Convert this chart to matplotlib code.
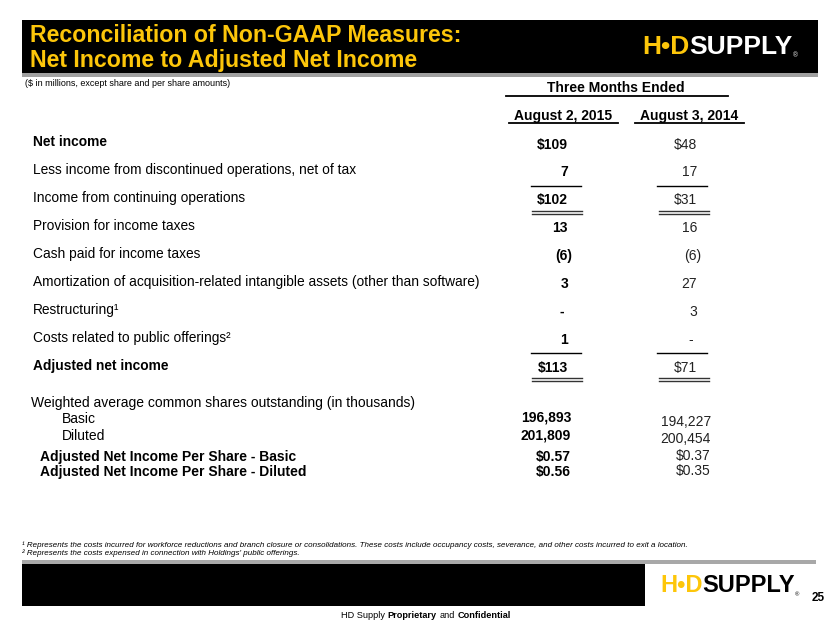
import matplotlib
matplotlib.use("Agg")
import matplotlib.pyplot as plt
from matplotlib.patches import Rectangle

plt.rcParams['font.family'] = ['Liberation Sans', 'DejaVu Sans']

# ---- data ----
title_lines = ["Reconciliation of Non-GAAP Measures:", "Net Income to Adjusted Net Income"]
period_header = "Three Months Ended"
col_headers = ["August 2, 2015", "August 3, 2014"]

row_labels = ["Net income",
              "Less income from discontinued operations, net of tax",
              "Income from continuing operations",
              "Provision for income taxes",
              "Cash paid for income taxes",
              "Amortization of acquisition-related intangible assets (other than software)",
              "Restructuring\u00b9",
              "Costs related to public offerings\u00b2",
              "Adjusted net income"]
q_2015 = ["$109", "7", "$102", "13", "(6)", "3", "-", "1", "$113"]
q_2014 = ["$48", "17", "$31", "16", "(6)", "27", "3", "-", "$71"]

shares_title = "Weighted average common shares outstanding (in thousands)"
share_labels = ["Basic", "Diluted"]
shares_2015 = ["196,893", "201,809"]
shares_2014 = ["194,227", "200,454"]

eps_labels = ["Adjusted Net Income Per Share - Basic", "Adjusted Net Income Per Share - Diluted"]
eps_2015 = ["$0.57", "$0.56"]
eps_2014 = ["$0.37", "$0.35"]

footnotes = ["\u00b9 Represents the costs incurred for workforce reductions and branch closure or consolidations. "
             "These costs include occupancy costs, severance, and other costs incurred to exit a location.",
             "\u00b2 Represents the costs expensed in connection with Holdings' public offerings."]

YELLOW = '#FDC60A'

fig = plt.figure(figsize=(8.3, 6.23), dpi=100)
ax = fig.add_axes([0, 0, 1, 1])
ax.set_xlim(0, 830)
ax.set_ylim(623, 0)
ax.axis('off')

# ---- title bar ----
ax.add_patch(Rectangle((22, 72), 796, 5, color='#a0a0a0', lw=0))
ax.add_patch(Rectangle((22, 20), 796, 53, color='black', lw=0))
for i, t in enumerate(title_lines):
    ax.text(30, 35 + 25 * i, t, color=YELLOW, fontsize=16.7, fontweight='bold',
            va='center', ha='left')


def logo(x, y, size, rest_color):
    t1 = ax.text(x, y, "H\u2022D", color=YELLOW, fontsize=size, fontweight='bold',
                 va='center', ha='left')
    t2 = ax.annotate("SUPPLY", xy=(1, 0), xycoords=t1, va='bottom', ha='left',
                     color=rest_color, fontsize=size, fontweight='bold')
    ax.annotate("\u00ae", xy=(1, 0), xycoords=t2, va='bottom', ha='left',
                color=rest_color, fontsize=size * 0.25)


logo(642, 47, 19, 'white')

ax.text(25, 84, "($ in millions, except share and per share amounts)", fontsize=6.5, va='center')

# ---- column headers ----
c1, c2 = 563, 689
ax.text((c1 + c2) / 2 - 10, 88, period_header, fontsize=10, fontweight='bold', ha='center', va='center')
ax.plot([506, 728], [95.5, 95.5], color='black', lw=1.3)
for cx, h in zip([c1, c2], col_headers):
    ax.text(cx, 116, h, fontsize=10, fontweight='bold', ha='center', va='center')
    ax.plot([cx - 54, cx + 55], [123, 123], color='black', lw=1.3)

# ---- main rows ----
y0, dy = 142.5, 27.9
bold_rows = {0, 8}
single_after = [1, 7]
double_after = [2, 8]
r1, r2 = 568, 697
for i, lab in enumerate(row_labels):
    y = y0 + dy * i
    ax.text(33, y, lab, fontsize=9.9, fontweight='bold' if i in bold_rows else 'normal',
            va='center', ha='left')
    for rx, v, w, col in [(r1, q_2015[i], 'bold', 'black'), (r2, q_2014[i], 'normal', '#222222')]:
        off = 4 if v.endswith(')') else 0
        if v == '-':
            off = -4
        ax.text(rx + off, y + 2, v, fontsize=10, fontweight=w, color=col, va='center', ha='right')

for i in single_after:
    y = y0 + dy * i + 15.5
    for cx in [556, 682]:
        ax.plot([cx - 25, cx + 25], [y, y], color='black', lw=1)
for i in double_after:
    y = y0 + dy * i + 12.5
    for cx in [557, 684]:
        ax.plot([cx - 25, cx + 25], [y, y], color='#333333', lw=1)
        ax.plot([cx - 25, cx + 25], [y + 3, y + 3], color='#333333', lw=1)

# ---- shares and EPS ----
fs = 10
ax.text(31, 403, shares_title, fontsize=fs, va='center')
for i, lab in enumerate(share_labels):
    y = 419 + 17 * i
    ax.text(62, y, lab, fontsize=fs, va='center')
    ax.text(571, y - 1, shares_2015[i], fontsize=fs, fontweight='bold', ha='right', va='center')
    ax.text(711, y + 3, shares_2014[i], fontsize=fs, color='#222222', ha='right', va='center')
for i, lab in enumerate(eps_labels):
    y = 457 + 15 * i
    ax.text(40, y, lab, fontsize=fs, fontweight='bold', va='center')
    ax.text(571, y, eps_2015[i], fontsize=fs, fontweight='bold', ha='right', va='center')
    ax.text(711, y - 1, eps_2014[i], fontsize=fs, color='#222222', ha='right', va='center')

# ---- footnotes ----
for i, f in enumerate(footnotes):
    ax.text(22, 545 + 8 * i, f, fontsize=5.8, style='italic', va='center')

# ---- footer ----
ax.add_patch(Rectangle((22, 560), 794, 4, color='#a8a8a8', lw=0))
ax.add_patch(Rectangle((22, 564), 623, 42, color='black', lw=0))
logo(660, 586, 17, 'black')
ax.text(812, 598, "25", fontsize=8.5, fontweight='bold', va='center')

f1 = ax.text(341, 615, "HD Supply", fontsize=6.6, va='center')
f2 = ax.annotate("Proprietary", xy=(1, 0), xycoords=f1, xytext=(2, 0), textcoords='offset points',
                 va='bottom', fontsize=6.6, fontweight='bold')
f3 = ax.annotate("and", xy=(1, 0), xycoords=f2, xytext=(2, 0), textcoords='offset points',
                 va='bottom', fontsize=6.6)
ax.annotate("Confidential", xy=(1, 0), xycoords=f3, xytext=(2, 0), textcoords='offset points',
            va='bottom', fontsize=6.6, fontweight='bold')

fig.savefig("out.png", dpi=100)
